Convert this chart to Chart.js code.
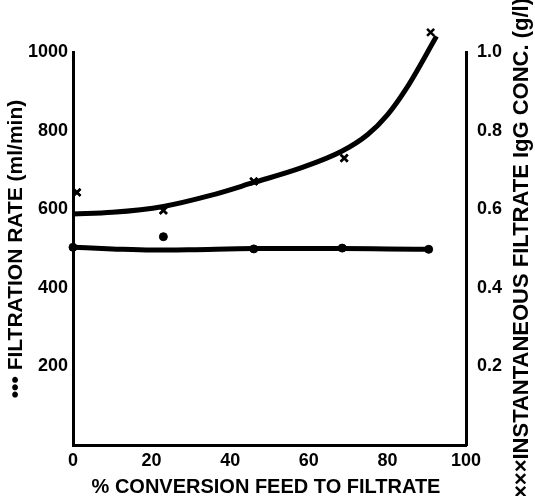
<!DOCTYPE html>
<html>
<head>
<meta charset="utf-8">
<script src="https://cdn.jsdelivr.net/npm/chart.js@4"></script>
<style>
  html, body { margin: 0; padding: 0; background: #fff; }
  #wrap { width: 535px; height: 496px; }
</style>
</head>
<body>
<div id="wrap"><canvas id="chart"></canvas></div>
<script>
// measured points
const ratePct = [0, 23, 46, 68.5, 90.5];
const rateVals = [503, 530, 499, 501, 498];
const concPct = [1, 23, 46, 69, 91];
const concVals = [0.643, 0.597, 0.671, 0.73, 1.05];

// hand-drawn fitted curves
const rateCurvePct = [0, 10, 20, 30, 46, 60, 68.5, 80, 90.5];
const rateCurveVals = [503, 499, 496, 497, 500, 500, 500, 499, 498];
const concCurvePct = [0, 10, 23, 35, 46, 58, 68.5, 75, 80, 85, 92.5];
const concCurveVals = [0.588, 0.592, 0.607, 0.635, 0.668, 0.705, 0.748, 0.79, 0.84, 0.91, 1.04];

const xTicks = [0, 20, 40, 60, 80, 100];
const xTitle = "% CONVERSION FEED TO FILTRATE";
const leftTitle = "\u2022\u2022\u2022 FILTRATION RATE (ml/min)";
const rightTitle = "\u00d7\u00d7\u00d7INSTANTANEOUS FILTRATE IgG CONC. (g/l)";

const FONT = "'Liberation Sans', Arial, sans-serif";
const toXY = (xs, ys) => xs.map((x, i) => ({ x, y: ys[i] }));

function drawRotated(ctx, text, x, y, size) {
  ctx.save();
  ctx.fillStyle = "#000";
  ctx.textAlign = "center";
  ctx.textBaseline = "middle";
  ctx.font = "bold " + size + "px " + FONT;
  ctx.translate(x, y);
  ctx.rotate(-Math.PI / 2);
  ctx.fillText(text, 0, 0);
  ctx.restore();
}

const titles = {
  id: "titles",
  afterDatasetsDraw(chart) {
    // points above the plot area (the last x marker) are skipped by Chart.js; draw them unclipped
    const meta = chart.getDatasetMeta(3);
    meta.data.forEach((el) => el.draw(chart.ctx));
  },
  afterDraw(chart) {
    const ctx = chart.ctx;
    ctx.save();
    ctx.fillStyle = "#000";
    ctx.textAlign = "center";
    ctx.textBaseline = "middle";
    ctx.font = "bold 20px " + FONT;
    ctx.fillText(xTitle, 266, 487);
    ctx.restore();

    drawRotated(ctx, leftTitle, 16, 249, 21);
    drawRotated(ctx, rightTitle, 522, 248, 22);
  },
};

const axisBorder = { display: true, color: "#000", width: 3 };
const tickFont = { family: FONT, size: 18, weight: "bold" };

new Chart(document.getElementById("chart"), {
  type: "line",
  data: {
    datasets: [
      {
        data: toXY(rateCurvePct, rateCurveVals),
        yAxisID: "y",
        borderColor: "#000",
        borderWidth: 5,
        pointRadius: 0,
        clip: false,
        cubicInterpolationMode: "monotone",
      },
      {
        data: toXY(concCurvePct, concCurveVals),
        yAxisID: "y2",
        borderColor: "#000",
        borderWidth: 5,
        pointRadius: 0,
        clip: false,
        cubicInterpolationMode: "monotone",
      },
      {
        data: toXY(ratePct, rateVals),
        yAxisID: "y",
        showLine: false,
        clip: false,
        pointStyle: "circle",
        pointRadius: 4,
        pointBackgroundColor: "#000",
        pointBorderColor: "#000",
      },
      {
        data: toXY(concPct, concVals),
        yAxisID: "y2",
        showLine: false,
        clip: false,
        pointStyle: "crossRot",
        pointRadius: 5,
        pointBorderWidth: 2.5,
        pointBorderColor: "#000",
      },
    ],
  },
  options: {
    responsive: true,
    maintainAspectRatio: false,
    animation: false,
    layout: { padding: { top: 52, left: 0, right: 0, bottom: 0 } },
    plugins: { legend: { display: false }, tooltip: { enabled: false } },
    scales: {
      x: {
        type: "linear",
        min: 0,
        max: 100,
        afterBuildTicks: (s) => { s.ticks = xTicks.map((v) => ({ value: v })); },
        afterFit: (s) => { s.height = 51; },
        grid: { display: false, drawTicks: false },
        border: axisBorder,
        ticks: { color: "#000", font: tickFont, padding: 5, maxRotation: 0 },
      },
      y: {
        position: "left",
        min: 0,
        max: 1000,
        afterFit: (s) => { s.width = 73; },
        grid: { display: false, drawTicks: false },
        border: axisBorder,
        ticks: {
          stepSize: 200,
          color: "#000",
          font: tickFont,
          padding: 5,
          callback: (v) => (v === 0 ? "" : v),
        },
      },
      y2: {
        position: "right",
        min: 0,
        max: 1,
        afterFit: (s) => { s.width = 69; },
        grid: { display: false, drawTicks: false },
        border: axisBorder,
        ticks: {
          stepSize: 0.2,
          color: "#000",
          font: tickFont,
          padding: 11,
          callback: (v) => (v === 0 ? "" : v.toFixed(1)),
        },
      },
    },
  },
  plugins: [titles],
});
</script>
</body>
</html>
